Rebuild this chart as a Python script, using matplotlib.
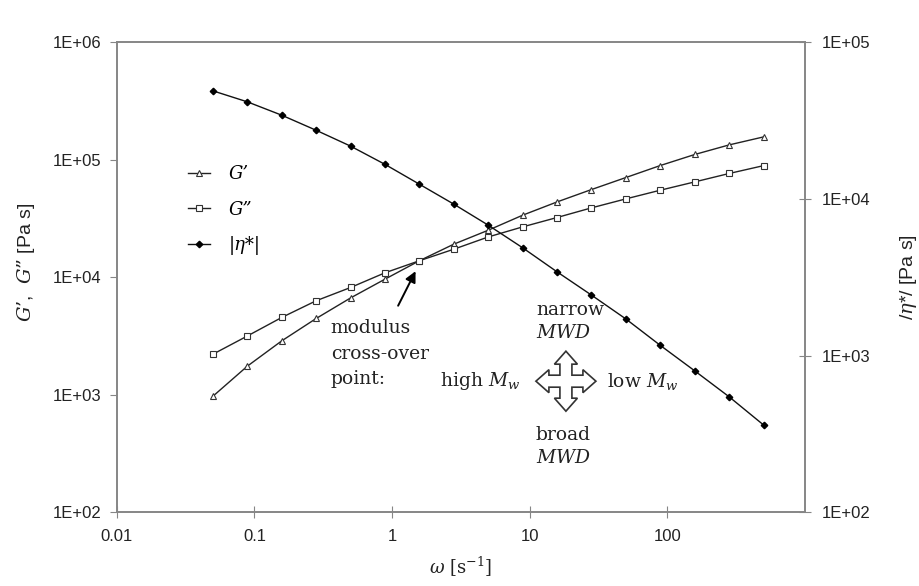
import numpy as np
import matplotlib
matplotlib.use("Agg")
import matplotlib.pyplot as plt
import matplotlib.transforms as mtransforms
from matplotlib.patches import Polygon
from matplotlib.ticker import FixedLocator, FuncFormatter, NullLocator

plt.rcParams['mathtext.fontset'] = 'custom'
plt.rcParams['mathtext.rm'] = 'DejaVu Serif'
plt.rcParams['mathtext.it'] = 'DejaVu Serif:italic'
plt.rcParams['mathtext.bf'] = 'DejaVu Serif:bold'

# angular frequency [1/s]
omega = [0.05, 0.089, 0.158, 0.281, 0.5, 0.889, 1.58, 2.81, 5.0, 8.89,
         15.8, 28.1, 50.0, 88.9, 158, 281, 500]
# storage modulus G' [Pa]
g_prime = [970, 1750, 2870, 4450, 6660, 9620, 13800, 19100, 25100, 33700,
           43700, 55700, 70500, 89200, 110700, 133600, 156300]
# loss modulus G'' [Pa]
g_dprime = [2210, 3160, 4540, 6300, 8170, 10900, 13800, 17300, 22000, 26800,
            32200, 38900, 46400, 55000, 64700, 76300, 89000]
# complex viscosity |eta*| [Pa s]
eta = [48900, 41600, 34200, 27400, 21700, 16600, 12400, 9250, 6790, 4870,
       3420, 2430, 1710, 1160, 798, 545, 360]

x_ticks = [0.01, 0.1, 1, 10, 100]
x_ticklabels = ['0.01', '0.1', '1', '10', '100']
left_ticks = [1e2, 1e3, 1e4, 1e5, 1e6]
right_ticks = [1e2, 1e3, 1e4, 1e5]

spine_col = '#868686'
text_col = '#222222'

fig = plt.figure(figsize=(9.19, 5.86), dpi=100)
ax = fig.add_axes([0.127, 0.126, 0.749, 0.802])
ax2 = ax.twinx()

ax.set_xscale('log')
ax.set_yscale('log')
ax2.set_yscale('log')
ax.set_xlim(0.01, 1000)
ax.set_ylim(1e2, 1e6)
ax2.set_ylim(1e2, 1e5)

l1, = ax.plot(omega, g_prime, color='#222222', lw=1.0, marker='^', ms=5,
              mfc='white', mec='#333333', mew=0.8, label="G’")
l2, = ax.plot(omega, g_dprime, color='#222222', lw=1.0, marker='s', ms=5,
              mfc='white', mec='#333333', mew=0.8, label="G”")
l3, = ax2.plot(omega, eta, color='#111111', lw=1.0, marker='D', ms=3.3,
               mfc='black', mec='black', label="|η*|")

sci = FuncFormatter(lambda v, p: "1E+%02d" % int(round(np.log10(v))))
ax.xaxis.set_major_locator(FixedLocator(x_ticks))
ax.set_xticklabels(x_ticklabels)
ax.xaxis.set_minor_locator(NullLocator())
ax.yaxis.set_major_locator(FixedLocator(left_ticks))
ax.yaxis.set_major_formatter(sci)
ax.yaxis.set_minor_locator(NullLocator())
ax2.yaxis.set_major_locator(FixedLocator(right_ticks))
ax2.yaxis.set_major_formatter(sci)
ax2.yaxis.set_minor_locator(NullLocator())

for a in (ax, ax2):
    for s in a.spines.values():
        s.set_color(spine_col)
        s.set_linewidth(1.2)
ax.tick_params(axis='x', direction='inout', length=8, color=spine_col,
               labelsize=12, labelcolor=text_col, pad=8)
ax.tick_params(axis='y', direction='out', length=5, color=spine_col,
               labelsize=12, labelcolor=text_col, pad=6)
ax2.tick_params(axis='y', direction='inout', length=8, color=spine_col,
                labelsize=12, labelcolor=text_col, pad=8)
for lab in ax.get_xticklabels() + ax.get_yticklabels() + ax2.get_yticklabels():
    lab.set_family('Liberation Sans')

ax.set_xlabel(r"$\omega$ [s$^{-1}$]", fontsize=13, family='DejaVu Serif',
              color=text_col, labelpad=8)
ax.set_ylabel(r"$G’$,  $G”$ [Pa s]", fontsize=14, family='Liberation Sans',
              color=text_col)
ax.yaxis.set_label_coords(-0.116, 0.532)
ax2.set_ylabel(r"/$\eta$*/ [Pa s]", fontsize=14, family='Liberation Sans',
               color=text_col, labelpad=20)

leg = ax.legend(handles=[l1, l2, l3], loc='upper left',
                bbox_to_anchor=(0.103, 0.739), frameon=False, borderpad=0,
                borderaxespad=0, handlelength=1.25, handletextpad=1.0,
                labelspacing=0.98,
                prop={'family': 'DejaVu Serif', 'style': 'italic', 'size': 13})

serif = {'family': 'DejaVu Serif', 'fontsize': 13.5, 'color': text_col}
ax.text(0.311, 0.411, "modulus\ncross-over\npoint:", transform=ax.transAxes,
        va='top', ha='left', linespacing=1.55, **serif)
ax.annotate("", xy=(0.436, 0.518), xytext=(0.407, 0.434),
            xycoords='axes fraction', textcoords='axes fraction',
            arrowprops=dict(arrowstyle='-|>', color='black', lw=1.4,
                            mutation_scale=16))
ax.text(0.609, 0.45, "narrow\n$MWD$", transform=ax.transAxes, va='top',
        ha='left', linespacing=1.38, **serif)
ax.text(0.609, 0.183, "broad\n$MWD$", transform=ax.transAxes, va='top',
        ha='left', linespacing=1.38, **serif)
ax.text(0.587, 0.279, "high $M_w$", transform=ax.transAxes, va='center',
        ha='right', **serif)
ax.text(0.712, 0.279, "low $M_w$", transform=ax.transAxes, va='center',
        ha='left', **serif)

# four-way arrow glyph (offsets in pixels around its centre)
t, hb, hw, sw = 30, 17, 11.5, 6
quarter = [(0, t), (hw, hb), (sw, hb), (sw, sw), (hb, sw), (hb, hw)]
cross = []
for c, s in [(1, 0), (0, -1), (-1, 0), (0, 1)]:
    for (px, py) in quarter:
        cross.append((c * px - s * py, s * px + c * py))
trans = (mtransforms.Affine2D().scale(fig.dpi / 100.0)
         + mtransforms.ScaledTranslation(0.6526, 0.2787, ax.transAxes))
ax.add_patch(Polygon(cross, closed=True, facecolor='white', edgecolor='#333333',
                     lw=1.2, transform=trans, clip_on=False, zorder=5))

fig.savefig('out.png', dpi=100, facecolor='white')
